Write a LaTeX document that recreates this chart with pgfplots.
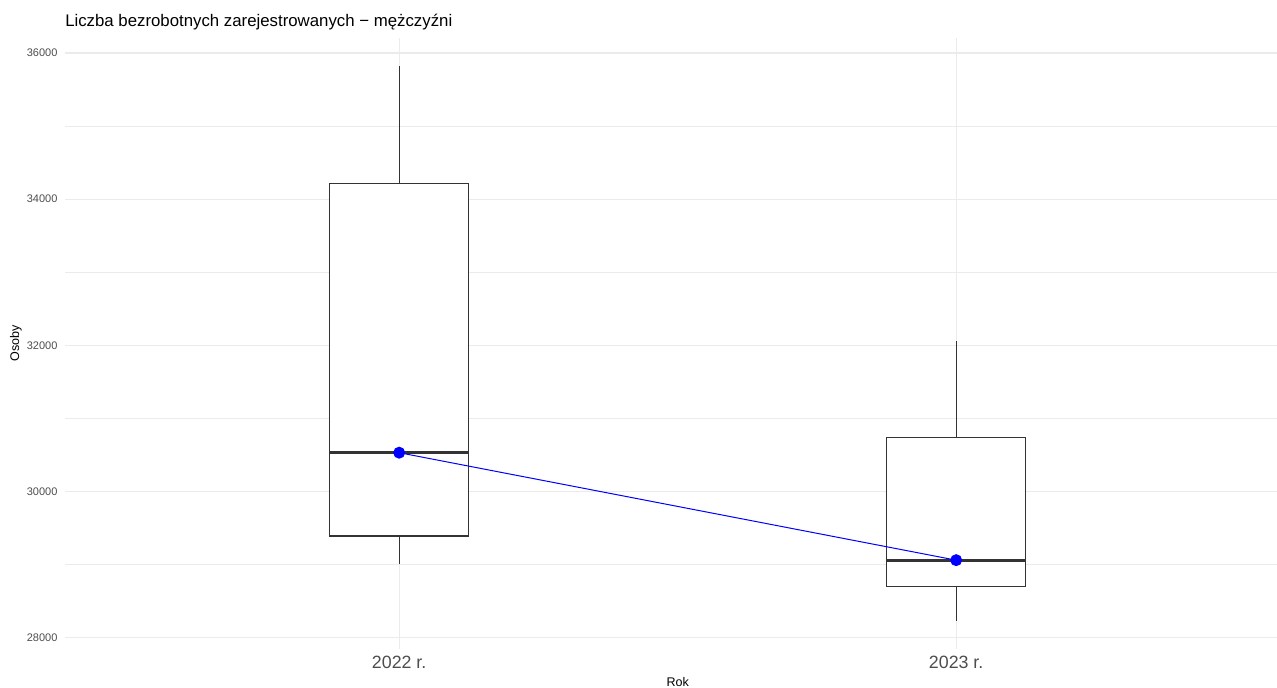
\documentclass[border=0pt]{standalone}
\usepackage{fontspec}
\setmainfont{Liberation Sans}
\usepackage{pgfplots}
\pgfplotsset{compat=1.18}
\usepgfplotslibrary{statistics}
\definecolor{gridc}{HTML}{EBEBEB}
\definecolor{boxc}{HTML}{333333}
\definecolor{tickc}{HTML}{4D4D4D}
\begin{document}
\begin{tikzpicture}[x=1pt,y=1pt]
\begin{axis}[
  at={(0,0)}, anchor=south west,
  scale only axis, width=909pt, height=458.25pt,
  xmin=0.4, xmax=2.576, ymin=27843, ymax=36206,
  axis line style={draw=none},
  major tick length=0pt, minor tick length=0pt,
  scaled y ticks=false, scaled x ticks=false,
  xtick={1,2}, xticklabels={2022 r.,2023 r.},
  ytick={28000,30000,32000,34000,36000},
  yticklabels={28000,30000,32000,34000,36000},
  minor ytick={29000,31000,33000,35000},
  xmajorgrids, ymajorgrids, yminorgrids,
  major grid style={draw=gridc, line width=0.9pt},
  minor grid style={draw=gridc, line width=0.45pt},
  xticklabel style={font=\fontsize{13.35}{14}\selectfont, text=tickc, anchor=north, inner sep=0pt, yshift=-5.25pt},
  yticklabel style={font=\fontsize{8.25}{9}\selectfont, text=tickc, anchor=east, inner sep=0pt, xshift=-5.5pt},
  xlabel={Rok}, ylabel={Osoby},
  xlabel style={at={(axis description cs:0.5055,-0.0606)}, anchor=base, inner sep=0pt, font=\fontsize{9.4}{10}\selectfont},
  ylabel style={at={(axis description cs:-0.03795,0.5)}, anchor=base, inner sep=0pt, font=\fontsize{9.4}{10}\selectfont},
  boxplot/draw direction=y,
  boxplot/draw/median/.code={\draw[line width=2pt, boxc] (boxplot box cs:\pgfplotsboxplotvalue{median},0) -- (boxplot box cs:\pgfplotsboxplotvalue{median},1);},
]
\addplot[boxplot prepared={lower whisker=29010, lower quartile=29388, median=30530, upper quartile=34215, upper whisker=35826, draw position=1, box extend=0.25, whisker extend=0}, draw=boxc, fill=white, line width=1pt, solid] coordinates {};
\addplot[boxplot prepared={lower whisker=28223, lower quartile=28700, median=29059, upper quartile=30735, upper whisker=32055, draw position=2, box extend=0.25, whisker extend=0}, draw=boxc, fill=white, line width=1pt, solid] coordinates {};
\addplot[blue, line width=0.75pt, mark=*, mark size=4.1pt, mark options={fill=blue, draw=none}] coordinates {(1,30530) (2,29059)};
\end{axis}
\node[anchor=base west, inner sep=0pt, font=\fontsize{12.6}{13}\selectfont] at (0pt,466.5pt) {Liczba bezrobotnych zarejestrowanych − mężczyźni};
\pgfresetboundingbox
\useasboundingbox (-48.75pt,-28.5pt) rectangle (909pt,486.75pt);
\end{tikzpicture}
\end{document}
